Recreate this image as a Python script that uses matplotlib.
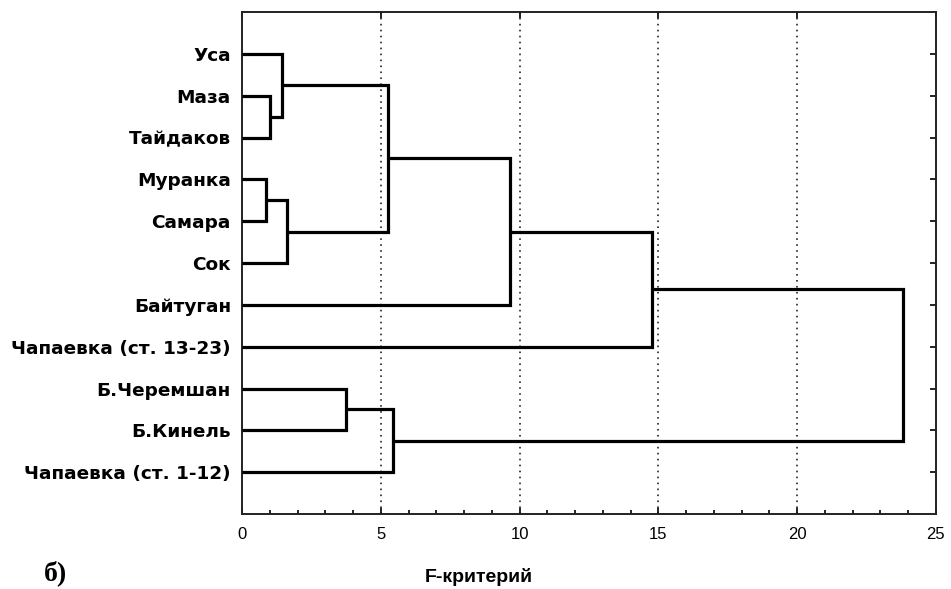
import matplotlib.pyplot as plt
from matplotlib.ticker import MultipleLocator

# leaves, top to bottom
labels = ['Уса', 'Маза', 'Тайдаков', 'Муранка', 'Самара', 'Сок', 'Байтуган',
          'Чапаевка (ст. 13-23)', 'Б.Черемшан', 'Б.Кинель', 'Чапаевка (ст. 1-12)']

# joins: first node, second node, F value; new nodes get ids 11, 12, ...
join_a = [1, 0, 3, 13, 12, 15, 16, 8, 18, 17]
join_b = [2, 11, 4, 5, 14, 6, 7, 9, 10, 19]
join_f = [1.01, 1.43, 0.85, 1.63, 5.27, 9.66, 14.78, 3.74, 5.45, 23.82]

plt.rcParams['font.family'] = ['Liberation Sans', 'DejaVu Sans']

fig = plt.figure(figsize=(9.51, 5.89), dpi=100)
ax = fig.add_axes([0.2545, 0.1273, 0.7295, 0.8523])

pos_y = {i: i + 1 for i in range(len(labels))}
pos_x = {i: 0.0 for i in range(len(labels))}

for k, (a, b, f) in enumerate(zip(join_a, join_b, join_f)):
    node = len(labels) + k
    ax.plot([pos_x[a], f, f, pos_x[b]], [pos_y[a], pos_y[a], pos_y[b], pos_y[b]],
            color='black', lw=2.3, solid_joinstyle='miter', solid_capstyle='butt',
            zorder=3)
    pos_x[node] = f
    pos_y[node] = (pos_y[a] + pos_y[b]) / 2

for g in [5, 10, 15, 20]:
    ax.axvline(g, color='#333333', lw=1.3, ls=(0, (0.9, 2.4)), zorder=1)

ax.set_xlim(0, 25)
ax.set_ylim(len(labels) + 1, 0)
ax.xaxis.set_major_locator(MultipleLocator(5))
ax.xaxis.set_minor_locator(MultipleLocator(1))
ax.set_yticks(range(1, len(labels) + 1))
ax.set_yticklabels(labels, fontsize=13.3, fontweight='bold', family='DejaVu Sans')

ax.tick_params(axis='x', which='both', direction='in', top=True, labelsize=12,
               pad=9, color='black')
ax.tick_params(axis='x', which='major', length=4, width=1.2)
ax.tick_params(axis='x', which='minor', length=3, width=1.2, top=False)
ax.tick_params(axis='y', direction='in', left=False, right=True, length=4,
               width=1.2, pad=8)

for s in ax.spines.values():
    s.set_linewidth(1.4)
    s.set_color('#222222')

fig.text(0.504, 0.021, 'F-критерий', fontsize=14, fontweight='bold', ha='center',
         va='center')
fig.text(0.046, 0.026, 'б)', fontsize=20, fontweight='bold',
         family=['Liberation Serif', 'DejaVu Serif'], ha='left', va='center')

fig.savefig('out.png', dpi=100)
